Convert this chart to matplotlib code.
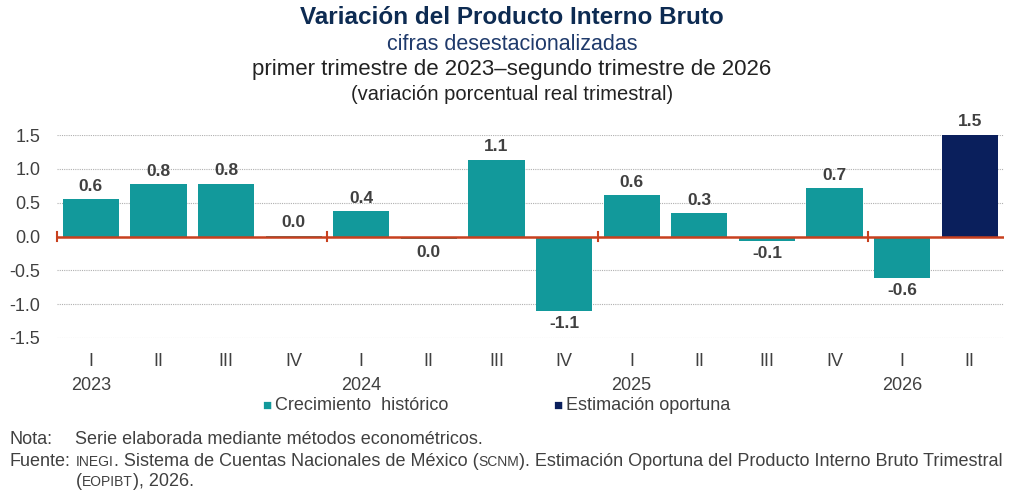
import matplotlib
matplotlib.use('Agg')
import matplotlib.pyplot as plt
import numpy as np

# data
quarters = ['I', 'II', 'III', 'IV', 'I', 'II', 'III', 'IV', 'I', 'II', 'III', 'IV', 'I', 'II']
years = ['2023', '2024', '2025', '2026']
values = [0.55, 0.77, 0.78, 0.01, 0.37, -0.04, 1.13, -1.10, 0.61, 0.34, -0.06, 0.71, -0.61, 1.50]
labels = ['0.6', '0.8', '0.8', '0.0', '0.4', '0.0', '1.1', '-1.1', '0.6', '0.3', '-0.1', '0.7', '-0.6', '1.5']
series = ['Crecimiento  histórico'] * 13 + ['Estimación oportuna']

teal = '#12999B'
navy = '#0A1F5C'
red = '#C8401E'
txt = '#404040'
colors = {'Crecimiento  histórico': teal, 'Estimación oportuna': navy}

plt.rcParams['font.family'] = ['Liberation Sans', 'DejaVu Sans']

fig = plt.figure(figsize=(10.24, 5), dpi=100)
ax = fig.add_axes([0.0557, 0.324, 0.9243, 0.406])

x = np.arange(len(values))
ax.bar(x, values, width=0.83, color=[colors[s] for s in series], zorder=3)

for xi, v, lab in zip(x, values, labels):
    if v >= 0:
        ax.annotate(lab, (xi, v), xytext=(0, 4), textcoords='offset points',
                    ha='center', va='bottom', fontsize=12.5, fontweight='bold', color=txt)
    else:
        ax.annotate(lab, (xi, v), xytext=(0, -4), textcoords='offset points',
                    ha='center', va='top', fontsize=12.5, fontweight='bold', color=txt)

ax.set_xlim(-0.5, len(values) - 0.5)
ax.set_ylim(-1.5, 1.5)
ax.set_yticks([-1.5, -1.0, -0.5, 0.0, 0.5, 1.0, 1.5])
ax.set_yticklabels(['%.1f' % t for t in ax.get_yticks()], fontsize=13, color=txt)
ax.set_xticks(x)
ax.set_xticklabels(quarters, fontsize=13, color=txt)
ax.tick_params(axis='both', length=0)
ax.tick_params(axis='y', pad=12)
ax.tick_params(axis='x', pad=11)
for s in ax.spines.values():
    s.set_visible(False)
ax.yaxis.grid(True, linestyle=(0, (1, 1)), color='#B0B0B0', linewidth=0.8, zorder=0)
ax.set_axisbelow(True)

# zero line with year separators
ax.axhline(0, color=red, linewidth=1.8, zorder=4)
for b in [-0.5, 3.5, 7.5, 11.5]:
    ax.plot([b, b], [-0.06, 0.06], color=red, linewidth=1.5, zorder=4, clip_on=False)

for i, yr in enumerate(years):
    ax.annotate(yr, (i * 4, 0), xycoords=('data', 'axes fraction'), xytext=(0, -28),
                textcoords='offset points', ha='center', va='top', fontsize=13, color=txt)

# legend
for xpos, name in [(0.256, 'Crecimiento  histórico'), (0.540, 'Estimación oportuna')]:
    fig.text(xpos, 0.188, '\u25A0', color=colors[name], fontsize=11, va='center', ha='left')
    fig.text(xpos + 0.013, 0.188, name, color=txt, fontsize=13, va='center', ha='left')

# titles
fig.text(0.5, 0.966, 'Variación del Producto Interno Bruto', ha='center', va='center',
         fontsize=17.5, fontweight='bold', color='#0D2B52')
fig.text(0.5, 0.912, 'cifras desestacionalizadas', ha='center', va='center',
         fontsize=15.5, color='#1F3A6B')
fig.text(0.5, 0.860, 'primer trimestre de 2023–segundo trimestre de 2026', ha='center', va='center',
         fontsize=16, color='#222222')
fig.text(0.5, 0.810, '(variación porcentual real trimestral)', ha='center', va='center',
         fontsize=14.5, color='#222222')

# footer
fs = 13
small = 10
fig.text(0.009, 0.112, 'Nota:', fontsize=fs, color=txt, va='baseline')
fig.text(0.073, 0.112, 'Serie elaborada mediante métodos econométricos.', fontsize=fs, color=txt,
         va='baseline')
fig.text(0.009, 0.069, 'Fuente:', fontsize=fs, color=txt, va='baseline')

renderer = fig.canvas.get_renderer()


def chain_line(parts, x0, y0):
    # pieces on one baseline, small caps pieces use a smaller size
    xpos = x0
    for s, size in parts:
        t = fig.text(xpos, y0, s, fontsize=size, color=txt, va='baseline', ha='left')
        w = t.get_window_extent(renderer).width
        xpos += w / fig.bbox.width


chain_line([('INEGI', small), ('. Sistema de Cuentas Nacionales de México (', fs), ('SCNM', small),
            ('). Estimación Oportuna del Producto Interno Bruto Trimestral', fs)], 0.074, 0.069)
chain_line([('(', fs), ('EOPIBT', small), ('), 2026.', fs)], 0.074, 0.027)

fig.savefig('out.png', dpi=100)
